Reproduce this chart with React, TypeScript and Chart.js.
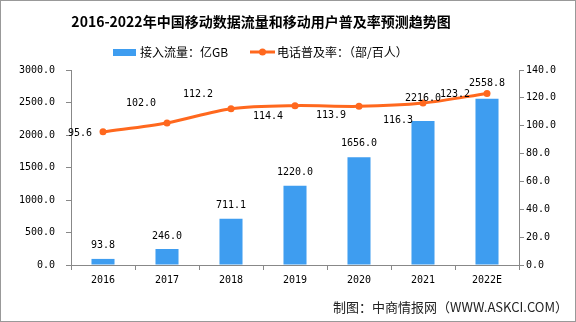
import React, { useEffect, useRef } from 'react';
import { Chart, registerables } from 'chart.js';

Chart.register(...registerables);

const categories = ['2016', '2017', '2018', '2019', '2020', '2021', '2022E'];
const trafficValues = [93.8, 246.0, 711.1, 1220.0, 1656.0, 2216.0, 2558.8];
const penetrationValues = [95.6, 102.0, 112.2, 114.4, 113.9, 116.3, 123.2];

const titleText = '2016-2022年中国移动数据流量和移动用户普及率预测趋势图';
const barLegend = '接入流量：亿GB';
const lineLegend = '电话普及率：（部/百人）';
const footerText = '制图：中商情报网（WWW.ASKCI.COM）';

// label placement styles (pixel offsets from the mark)
const barLabelDy = [-13, -13, -13, -13, -14, -23, -15];
const lineLabelOffsets: [number, number][] = [
  [-23, 2], [-26, -20], [-33, -14], [-27, 11], [-28, 9], [-25, 17], [-32, 1],
];

const BAR_COLOR = 'rgb(62,157,240)';
const LINE_COLOR = 'rgb(255,104,30)';
const NUM_FONT = '10px "DejaVu Sans Mono"';

const decor = {
  id: 'decor',
  beforeDraw(chart: any) {
    const ctx = chart.ctx;
    ctx.save();
    ctx.fillStyle = '#fff';
    ctx.fillRect(0, 0, chart.width, chart.height);
    ctx.restore();
  },
  afterDatasetsDraw(chart: any) {
    const ctx = chart.ctx;
    ctx.save();
    ctx.font = NUM_FONT;
    ctx.fillStyle = '#000';
    ctx.textAlign = 'center';
    ctx.textBaseline = 'middle';
    chart.getDatasetMeta(0).data.forEach((b: any, i: number) => {
      ctx.fillText(trafficValues[i].toFixed(1), b.x, b.y + barLabelDy[i]);
    });
    chart.getDatasetMeta(1).data.forEach((p: any, i: number) => {
      const [dx, dy] = lineLabelOffsets[i];
      ctx.fillText(penetrationValues[i].toFixed(1), p.x + dx, p.y + dy);
    });
    ctx.restore();
  },
  afterDraw(chart: any) {
    const ctx = chart.ctx;
    ctx.save();
    // title
    ctx.fillStyle = '#000';
    ctx.textAlign = 'center';
    ctx.textBaseline = 'middle';
    ctx.font = 'bold 14px "Noto Sans CJK SC"';
    ctx.fillText(titleText, 261, 22);
    // legend
    ctx.textAlign = 'left';
    ctx.font = '12px "Noto Sans CJK SC"';
    ctx.fillStyle = BAR_COLOR;
    ctx.fillRect(113, 49, 23, 7);
    ctx.fillStyle = '#000';
    ctx.fillText(barLegend, 140, 52);
    ctx.strokeStyle = LINE_COLOR;
    ctx.lineWidth = 3;
    ctx.beginPath();
    ctx.moveTo(250, 52);
    ctx.lineTo(275, 52);
    ctx.stroke();
    ctx.fillStyle = LINE_COLOR;
    ctx.beginPath();
    ctx.arc(262.5, 52, 3.5, 0, Math.PI * 2);
    ctx.fill();
    ctx.fillStyle = '#000';
    ctx.fillText(lineLegend, 277, 52);
    // footer
    ctx.textAlign = 'right';
    ctx.font = '13px "Noto Sans CJK SC"';
    ctx.fillStyle = '#222';
    ctx.fillText(footerText, 568, 307);
    // border
    ctx.strokeStyle = '#999';
    ctx.lineWidth = 1;
    ctx.strokeRect(0.5, 0.5, chart.width - 1, chart.height - 1);
    ctx.restore();
  },
};

export default function App() {
  const ref = useRef<HTMLCanvasElement | null>(null);
  useEffect(() => {
    document.body.style.margin = '0';
    const canvas = ref.current!;
    const chart = new Chart(canvas, {
      type: 'bar',
      data: {
        labels: categories,
        datasets: [
          {
            type: 'bar',
            label: barLegend,
            data: trafficValues,
            backgroundColor: BAR_COLOR,
            yAxisID: 'y',
            categoryPercentage: 1,
            barPercentage: 0.36,
            order: 2,
          },
          {
            type: 'line',
            label: lineLegend,
            data: penetrationValues,
            borderColor: LINE_COLOR,
            backgroundColor: LINE_COLOR,
            borderWidth: 3,
            pointRadius: 3.5,
            pointBackgroundColor: LINE_COLOR,
            pointBorderWidth: 0,
            tension: 0.3,
            yAxisID: 'y1',
            order: 1,
          } as any,
        ],
      },
      options: {
        responsive: false,
        animation: false,
        layout: { padding: { top: 70, left: 0, right: 0, bottom: 0 } },
        plugins: { legend: { display: false }, title: { display: false }, tooltip: { enabled: false } },
        scales: {
          x: {
            grid: { display: true, drawOnChartArea: false, color: '#888', tickLength: 5, offset: true },
            border: { color: '#888' },
            ticks: { color: '#000', font: { family: 'DejaVu Sans Mono', size: 10 }, padding: 4, maxRotation: 0 },
            afterFit: (s: any) => { s.height = 57; },
          },
          y: {
            position: 'left',
            min: 0,
            max: 3000,
            grid: { display: true, drawOnChartArea: false, color: '#888', tickLength: 5 },
            border: { color: '#888' },
            ticks: {
              stepSize: 500,
              color: '#000',
              font: { family: 'DejaVu Sans Mono', size: 10 },
              padding: 11,
              callback: (v: any) => Number(v).toFixed(1),
            },
            afterFit: (s: any) => { s.width = 71; },
          },
          y1: {
            position: 'right',
            min: 0,
            max: 140,
            grid: { display: true, drawOnChartArea: false, color: '#888', tickLength: 5 },
            border: { color: '#888' },
            ticks: {
              stepSize: 20,
              color: '#000',
              font: { family: 'DejaVu Sans Mono', size: 10 },
              padding: 2,
              callback: (v: any) => Number(v).toFixed(1),
            },
            afterFit: (s: any) => { s.width = 57; },
          },
        },
      } as any,
      plugins: [decor],
    });
    return () => chart.destroy();
  }, []);
  return <canvas ref={ref} width={576} height={322} style={{ display: 'block', width: 576, height: 322 }} />;
}
